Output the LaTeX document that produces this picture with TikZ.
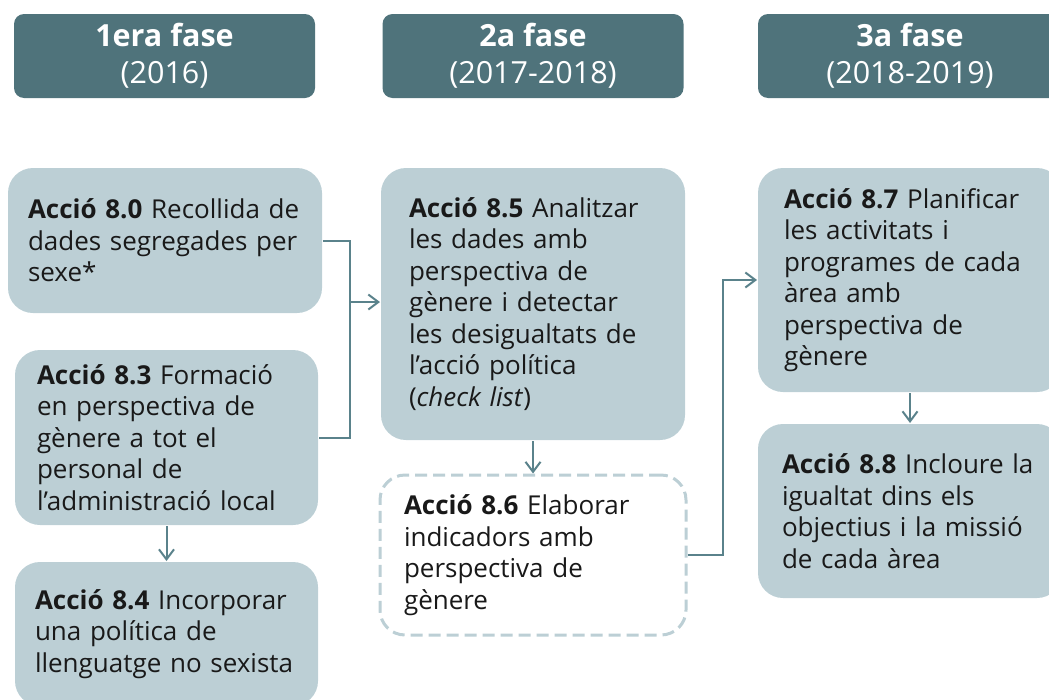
\documentclass[tikz,border=0pt]{standalone}
\usepackage{fontspec}
\setmainfont{Open Sans}
\usetikzlibrary{arrows.meta,positioning}
\definecolor{fasecol}{HTML}{4F737B}
\definecolor{acciocol}{HTML}{BCCFD5}
\definecolor{fletxacol}{HTML}{5A828B}
\tikzset{
    every node/.style={font=\fontsize{26}{31.5}\selectfont},
    fase node/.style={fill=fasecol,rounded corners=10pt,minimum width=301pt,minimum height=84pt,
        text=white,align=center,inner sep=0pt,font=\fontsize{30.5}{37}\selectfont},
    accio node/.style 2 args={fill=acciocol,rounded corners=25pt,text width=#1,inner xsep=#2,
        inner ysep=0pt,align=left,text=black!90}
}
\begin{document}
\begin{tikzpicture}[x=1pt,y=-1pt,->,>={Straight Barb[length=10pt,width=15pt]},line width=2pt,draw=fletxacol]

    \clip (0,0) rectangle (1049,699);

    \node[fase node] (1) at (164.5,56) {\textbf{1era fase}\\(2016)};
    \node[fase node] (2) at (533,56) {\textbf{2a fase}\\(2017-2018)};
    \node[fase node, minimum width=304pt] (3) at (910,56) {\textbf{3a fase}\\(2018-2019)};

    \node[accio node={274pt}{20pt}, minimum height=145pt] (80) at (165,240.5)
        {\textbf{Acció 8.0} Recollida de\\dades segregades per\\sexe*};
    \node[accio node={259pt}{22pt}, minimum height=175pt] (83) at (166.5,437.5)
        {\textbf{Acció 8.3} Formació\\en perspectiva de\\gènere a tot el\\personal de\\l’administració local};
    \node[accio node={263pt}{20pt}, minimum height=144pt] (84) at (166.5,634)
        {\textbf{Acció 8.4} Incorporar\\una política de\\llenguatge no sexista};

    \node[accio node={248pt}{28pt}, minimum height=272pt] (85) at (533,304)
        {\textbf{Acció 8.5} Analitzar\\les dades amb\\perspectiva de\\gènere i detectar\\les desigualtats de\\l’acció política\\(\textit{check list})};
    \node[accio node={258pt}{24pt}, minimum height=160pt, fill=white, draw=acciocol, line width=3pt,
        dash pattern=on 12pt off 6pt] (86) at (533,555)
        {\textbf{Acció 8.6} Elaborar\\indicadors amb\\perspectiva de\\gènere};

    \node[accio node={252pt}{26pt}, minimum height=224pt] (87) at (910,280)
        {\textbf{Acció 8.7} Planificar\\les activitats i\\programes de cada\\àrea amb\\perspectiva de\\gènere};
    \node[accio node={256pt}{24pt}, minimum height=174pt] (88) at (910,511)
        {\textbf{Acció 8.8} Incloure la\\igualtat dins els\\objectius i la missió\\de cada àrea};

    \coordinate (j) at (350,302);
    \draw[-] (80.east) -| (j);
    \draw[-] (83.east) -| (j);
    \draw (j) -- (j -| 85.west);
    \draw (83.south) -- (84.north);
    \draw (85.south) -- (86.north);
    \draw (86.east) -- ++(35,0) |- (87.west);
    \draw (87.south) -- (88.north);

\end{tikzpicture}
\end{document}
